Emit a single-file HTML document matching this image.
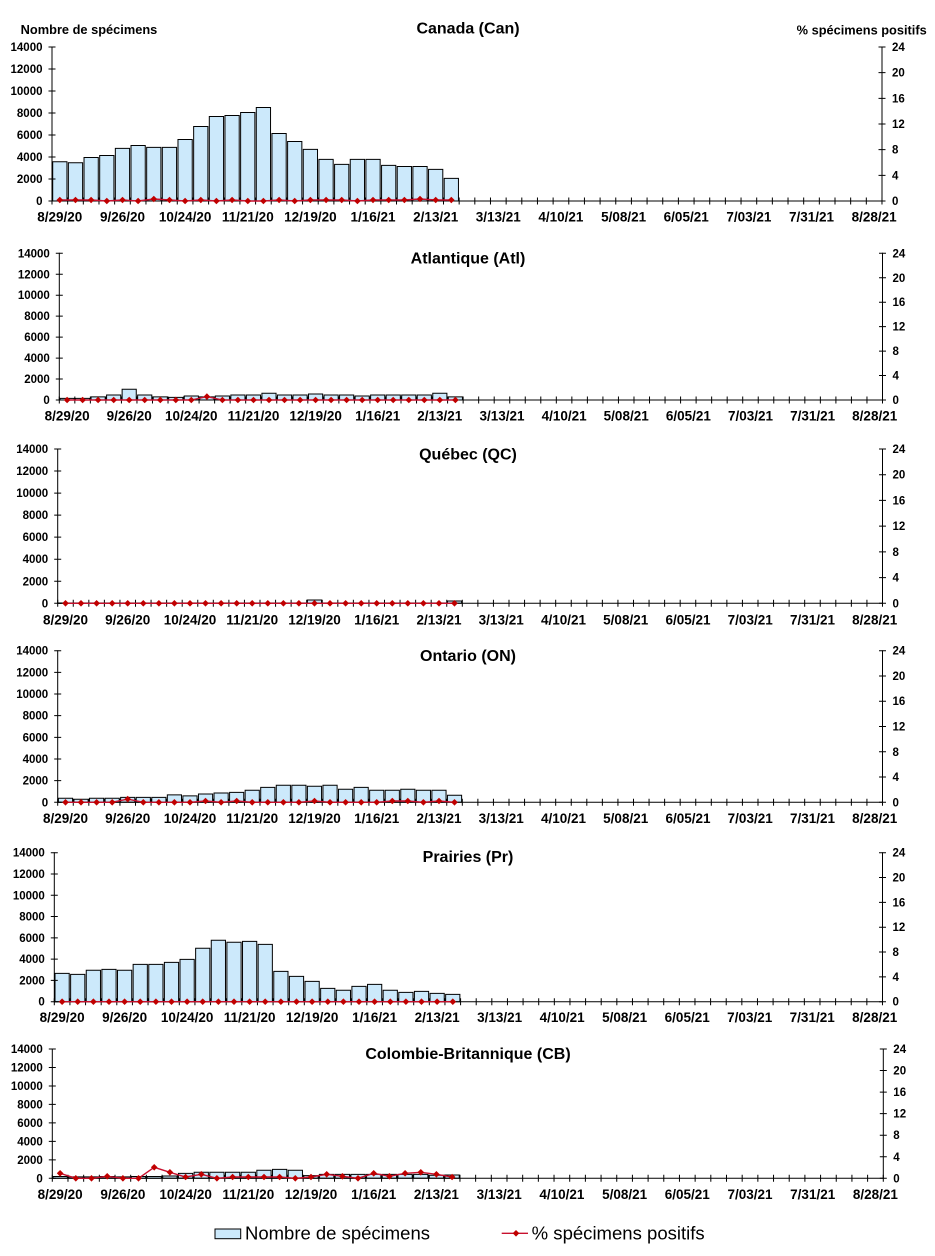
<!DOCTYPE html>
<html><head><meta charset="utf-8"><style>
html,body{margin:0;padding:0;background:#fff}
svg{display:block}
text{font-family:"Liberation Sans",Arial,sans-serif;fill:#000}
.t{font-weight:bold;font-size:16px;text-anchor:middle}
.h{font-weight:bold;font-size:12.5px}
.l{font-weight:bold;font-size:11.5px;text-anchor:end}
.r{font-weight:bold;font-size:11.5px}
.d{font-weight:bold;font-size:13.5px;text-anchor:middle}
.lg{font-size:18px}
.b{fill:#cce9fb;stroke:#000}
.b rect{vector-effect:non-scaling-stroke;stroke-width:1}
.ax{stroke:#000;stroke-width:1;fill:none}
.pl{fill:none;stroke:#c8102e;stroke-width:1.4;marker-start:url(#dm);marker-mid:url(#dm);marker-end:url(#dm)}
</style></head><body>
<svg width="935" height="1256" viewBox="0 0 935 1256" xmlns="http://www.w3.org/2000/svg">
<defs>
<marker id="dm" markerWidth="8" markerHeight="8" refX="4" refY="4" markerUnits="userSpaceOnUse" orient="0"><path d="M4,0.7L7.3,4L4,7.3L0.7,4Z" fill="#c00000"/></marker>
</defs>
<rect width="935" height="1256" fill="#fff"/>

<text class="h" x="20.7" y="34" textLength="136.6" lengthAdjust="spacingAndGlyphs">Nombre de spécimens</text>
<text class="h" x="796.7" y="34.3" textLength="130" lengthAdjust="spacingAndGlyphs">% spécimens positifs</text>

<!-- P1 Canada -->
<text class="t" x="468" y="33.3">Canada (Can)</text>
<g class="b" transform="translate(52,201) scale(15.660,-0.011)">
<rect x="0.045" width=".91" height="3570"/><rect x="1.045" width=".91" height="3480"/><rect x="2.045" width=".91" height="3960"/><rect x="3.045" width=".91" height="4140"/><rect x="4.045" width=".91" height="4780"/><rect x="5.045" width=".91" height="5050"/><rect x="6.045" width=".91" height="4870"/><rect x="7.045" width=".91" height="4870"/><rect x="8.045" width=".91" height="5590"/><rect x="9.045" width=".91" height="6770"/><rect x="10.045" width=".91" height="7680"/><rect x="11.045" width=".91" height="7770"/><rect x="12.045" width=".91" height="8040"/><rect x="13.045" width=".91" height="8500"/><rect x="14.045" width=".91" height="6140"/><rect x="15.045" width=".91" height="5410"/><rect x="16.045" width=".91" height="4690"/><rect x="17.045" width=".91" height="3780"/><rect x="18.045" width=".91" height="3330"/><rect x="19.045" width=".91" height="3780"/><rect x="20.045" width=".91" height="3780"/><rect x="21.045" width=".91" height="3240"/><rect x="22.045" width=".91" height="3140"/><rect x="23.045" width=".91" height="3140"/><rect x="24.045" width=".91" height="2870"/><rect x="25.045" width=".91" height="2060"/>
</g>
<path class="ax" d="M52,46.5V201.5M52,201H882M882,46.5V201.5"/>
<line x1="51.5" y1="201" x2="882.5" y2="201" stroke="#000" stroke-width="7" stroke-dasharray="1 14.66"/>
<line x1="52" y1="46.5" x2="52" y2="201.5" stroke="#000" stroke-width="7" stroke-dasharray="1 21"/>
<line x1="882" y1="46.5" x2="882" y2="201.5" stroke="#000" stroke-width="7" stroke-dasharray="1 24.667"/>
<polyline class="pl" points="59.8,200 75.5,200 91.1,200 106.8,201 122.5,200 138.1,201 153.8,199 169.5,200 185.1,201 200.8,200 216.4,201 232.1,200 247.8,201 263.4,201 279.1,200 294.7,201 310.4,200 326.1,200 341.7,200 357.4,201 373.0,200 388.7,200 404.4,200 420.0,199 435.7,200 451.3,200"/>
<text class="l" x="42.5" y="205">0</text><text class="l" x="42.5" y="183">2000</text><text class="l" x="42.5" y="161">4000</text><text class="l" x="42.5" y="139">6000</text><text class="l" x="42.5" y="117">8000</text><text class="l" x="42.5" y="95">10000</text><text class="l" x="42.5" y="73">12000</text><text class="l" x="42.5" y="51">14000</text>
<text class="r" x="892" y="205">0</text><text class="r" x="892" y="179.3">4</text><text class="r" x="892" y="153.7">8</text><text class="r" x="892" y="128">12</text><text class="r" x="892" y="102.3">16</text><text class="r" x="892" y="76.7">20</text><text class="r" x="892" y="51">24</text>
<text class="d" x="59.8" y="221.5">8/29/20</text><text class="d" x="122.5" y="221.5">9/26/20</text><text class="d" x="185.1" y="221.5">10/24/20</text><text class="d" x="247.8" y="221.5">11/21/20</text><text class="d" x="310.4" y="221.5">12/19/20</text><text class="d" x="373.0" y="221.5">1/16/21</text><text class="d" x="435.7" y="221.5">2/13/21</text><text class="d" x="498.3" y="221.5">3/13/21</text><text class="d" x="560.9" y="221.5">4/10/21</text><text class="d" x="623.6" y="221.5">5/08/21</text><text class="d" x="686.2" y="221.5">6/05/21</text><text class="d" x="748.9" y="221.5">7/03/21</text><text class="d" x="811.5" y="221.5">7/31/21</text><text class="d" x="874.1" y="221.5">8/28/21</text>

<!-- P2 Atlantique -->
<text class="t" x="468" y="263.3">Atlantique (Atl)</text>
<g class="b" transform="translate(59.3,400) scale(15.532,-0.010479)">
<rect x="0.045" width=".91" height="150"/><rect x="1.045" width=".91" height="150"/><rect x="2.045" width=".91" height="300"/><rect x="3.045" width=".91" height="480"/><rect x="4.045" width=".91" height="1020"/><rect x="5.045" width=".91" height="480"/><rect x="6.045" width=".91" height="300"/><rect x="7.045" width=".91" height="250"/><rect x="8.045" width=".91" height="380"/><rect x="9.045" width=".91" height="300"/><rect x="10.045" width=".91" height="380"/><rect x="11.045" width=".91" height="480"/><rect x="12.045" width=".91" height="480"/><rect x="13.045" width=".91" height="640"/><rect x="14.045" width=".91" height="480"/><rect x="15.045" width=".91" height="480"/><rect x="16.045" width=".91" height="570"/><rect x="17.045" width=".91" height="480"/><rect x="18.045" width=".91" height="480"/><rect x="19.045" width=".91" height="380"/><rect x="20.045" width=".91" height="480"/><rect x="21.045" width=".91" height="480"/><rect x="22.045" width=".91" height="480"/><rect x="23.045" width=".91" height="480"/><rect x="24.045" width=".91" height="640"/><rect x="25.045" width=".91" height="300"/>
</g>
<path class="ax" d="M59.3,252.8V400.5M59.3,400H882.5M882.5,252.8V400.5"/>
<line x1="58.8" y1="400" x2="883" y2="400" stroke="#000" stroke-width="7" stroke-dasharray="1 14.532"/>
<line x1="59.3" y1="252.8" x2="59.3" y2="400.5" stroke="#000" stroke-width="7" stroke-dasharray="1 19.957"/>
<line x1="882.5" y1="252.8" x2="882.5" y2="400.5" stroke="#000" stroke-width="7" stroke-dasharray="1 23.45"/>
<polyline class="pl" points="67.1,400 82.6,400 98.1,400 113.7,400 129.2,400 144.7,400 160.3,400 175.8,400 191.3,400 206.9,396.6 222.4,400 237.9,400 253.5,400 269.0,400 284.5,400 300.1,400 315.6,400 331.1,400 346.6,400 362.2,400 377.7,400 393.2,400 408.8,400 424.3,400 439.8,400 455.4,400"/>
<text class="l" x="49.8" y="404">0</text><text class="l" x="49.8" y="383">2000</text><text class="l" x="49.8" y="362.1">4000</text><text class="l" x="49.8" y="341.1">6000</text><text class="l" x="49.8" y="320.2">8000</text><text class="l" x="49.8" y="299.2">10000</text><text class="l" x="49.8" y="278.3">12000</text><text class="l" x="49.8" y="257.3">14000</text>
<text class="r" x="892.5" y="404">0</text><text class="r" x="892.5" y="379.6">4</text><text class="r" x="892.5" y="355.1">8</text><text class="r" x="892.5" y="330.7">12</text><text class="r" x="892.5" y="306.2">16</text><text class="r" x="892.5" y="281.8">20</text><text class="r" x="892.5" y="257.3">24</text>
<text class="d" x="67.1" y="420.5">8/29/20</text><text class="d" x="129.2" y="420.5">9/26/20</text><text class="d" x="191.3" y="420.5">10/24/20</text><text class="d" x="253.5" y="420.5">11/21/20</text><text class="d" x="315.6" y="420.5">12/19/20</text><text class="d" x="377.7" y="420.5">1/16/21</text><text class="d" x="439.8" y="420.5">2/13/21</text><text class="d" x="502.0" y="420.5">3/13/21</text><text class="d" x="564.1" y="420.5">4/10/21</text><text class="d" x="626.2" y="420.5">5/08/21</text><text class="d" x="688.4" y="420.5">6/05/21</text><text class="d" x="750.5" y="420.5">7/03/21</text><text class="d" x="812.6" y="420.5">7/31/21</text><text class="d" x="874.7" y="420.5">8/28/21</text>

<!-- P3 Québec -->
<text class="t" x="468" y="459.3">Québec (QC)</text>
<g class="b" transform="translate(57.7,603.3) scale(15.562,-0.011021)">
<rect x="0.045" width=".91" height="30"/><rect x="1.045" width=".91" height="30"/><rect x="2.045" width=".91" height="30"/><rect x="3.045" width=".91" height="30"/><rect x="4.045" width=".91" height="30"/><rect x="5.045" width=".91" height="30"/><rect x="6.045" width=".91" height="30"/><rect x="7.045" width=".91" height="30"/><rect x="8.045" width=".91" height="30"/><rect x="9.045" width=".91" height="30"/><rect x="10.045" width=".91" height="30"/><rect x="11.045" width=".91" height="30"/><rect x="12.045" width=".91" height="30"/><rect x="13.045" width=".91" height="30"/><rect x="14.045" width=".91" height="30"/><rect x="15.045" width=".91" height="30"/><rect x="16.045" width=".91" height="300"/><rect x="17.045" width=".91" height="30"/><rect x="18.045" width=".91" height="30"/><rect x="19.045" width=".91" height="30"/><rect x="20.045" width=".91" height="30"/><rect x="21.045" width=".91" height="30"/><rect x="22.045" width=".91" height="30"/><rect x="23.045" width=".91" height="30"/><rect x="24.045" width=".91" height="30"/><rect x="25.045" width=".91" height="210"/>
</g>
<path class="ax" d="M57.7,448.5V603.8M57.7,603.3H882.5M882.5,448.5V603.8"/>
<line x1="57.2" y1="603.3" x2="883" y2="603.3" stroke="#000" stroke-width="7" stroke-dasharray="1 14.562"/>
<line x1="57.7" y1="448.5" x2="57.7" y2="603.8" stroke="#000" stroke-width="7" stroke-dasharray="1 21.043"/>
<line x1="882.5" y1="448.5" x2="882.5" y2="603.8" stroke="#000" stroke-width="7" stroke-dasharray="1 24.717"/>
<polyline class="pl" points="65.5,603.3 81.0,603.3 96.6,603.3 112.2,603.3 127.7,603.3 143.3,603.3 158.9,603.3 174.4,603.3 190.0,603.3 205.5,603.3 221.1,603.3 236.7,603.3 252.2,603.3 267.8,603.3 283.4,603.3 298.9,603.3 314.5,603.3 330.0,603.3 345.6,603.3 361.2,603.3 376.7,603.3 392.3,603.3 407.8,603.3 423.4,603.3 439.0,603.3 454.5,603.3"/>
<text class="l" x="48.2" y="607.3">0</text><text class="l" x="48.2" y="585.3">2000</text><text class="l" x="48.2" y="563.2">4000</text><text class="l" x="48.2" y="541.2">6000</text><text class="l" x="48.2" y="519.1">8000</text><text class="l" x="48.2" y="497.1">10000</text><text class="l" x="48.2" y="475">12000</text><text class="l" x="48.2" y="453">14000</text>
<text class="r" x="892.5" y="607.3">0</text><text class="r" x="892.5" y="581.6">4</text><text class="r" x="892.5" y="555.9">8</text><text class="r" x="892.5" y="530.2">12</text><text class="r" x="892.5" y="504.4">16</text><text class="r" x="892.5" y="478.7">20</text><text class="r" x="892.5" y="453">24</text>
<text class="d" x="65.5" y="624.3">8/29/20</text><text class="d" x="127.7" y="624.3">9/26/20</text><text class="d" x="190.0" y="624.3">10/24/20</text><text class="d" x="252.2" y="624.3">11/21/20</text><text class="d" x="314.5" y="624.3">12/19/20</text><text class="d" x="376.7" y="624.3">1/16/21</text><text class="d" x="439.0" y="624.3">2/13/21</text><text class="d" x="501.2" y="624.3">3/13/21</text><text class="d" x="563.5" y="624.3">4/10/21</text><text class="d" x="625.7" y="624.3">5/08/21</text><text class="d" x="688.0" y="624.3">6/05/21</text><text class="d" x="750.2" y="624.3">7/03/21</text><text class="d" x="812.5" y="624.3">7/31/21</text><text class="d" x="874.7" y="624.3">8/28/21</text>

<!-- P4 Ontario -->
<text class="t" x="468" y="661">Ontario (ON)</text>
<g class="b" transform="translate(57.7,802.3) scale(15.562,-0.010829)">
<rect x="0.045" width=".91" height="370"/><rect x="1.045" width=".91" height="280"/><rect x="2.045" width=".91" height="370"/><rect x="3.045" width=".91" height="370"/><rect x="4.045" width=".91" height="460"/><rect x="5.045" width=".91" height="460"/><rect x="6.045" width=".91" height="460"/><rect x="7.045" width=".91" height="680"/><rect x="8.045" width=".91" height="590"/><rect x="9.045" width=".91" height="770"/><rect x="10.045" width=".91" height="860"/><rect x="11.045" width=".91" height="920"/><rect x="12.045" width=".91" height="1110"/><rect x="13.045" width=".91" height="1380"/><rect x="14.045" width=".91" height="1570"/><rect x="15.045" width=".91" height="1570"/><rect x="16.045" width=".91" height="1480"/><rect x="17.045" width=".91" height="1570"/><rect x="18.045" width=".91" height="1200"/><rect x="19.045" width=".91" height="1380"/><rect x="20.045" width=".91" height="1110"/><rect x="21.045" width=".91" height="1110"/><rect x="22.045" width=".91" height="1200"/><rect x="23.045" width=".91" height="1110"/><rect x="24.045" width=".91" height="1110"/><rect x="25.045" width=".91" height="650"/>
</g>
<path class="ax" d="M57.7,650.2V802.8M57.7,802.3H882.5M882.5,650.2V802.8"/>
<line x1="57.2" y1="802.3" x2="883" y2="802.3" stroke="#000" stroke-width="7" stroke-dasharray="1 14.562"/>
<line x1="57.7" y1="650.2" x2="57.7" y2="802.8" stroke="#000" stroke-width="7" stroke-dasharray="1 20.657"/>
<line x1="882.5" y1="650.2" x2="882.5" y2="802.8" stroke="#000" stroke-width="7" stroke-dasharray="1 24.267"/>
<polyline class="pl" points="65.5,802.3 81.0,802.3 96.6,802.3 112.2,802.3 127.7,799.1 143.3,802.3 158.9,802.3 174.4,802.3 190.0,802.3 205.5,801 221.1,802.3 236.7,801 252.2,802.3 267.8,802.3 283.4,802.3 298.9,802.3 314.5,801 330.0,802.3 345.6,802.3 361.2,802.3 376.7,802.3 392.3,801 407.8,801 423.4,802.3 439.0,801 454.5,802.3"/>
<text class="l" x="48.2" y="806.3">0</text><text class="l" x="48.2" y="784.6">2000</text><text class="l" x="48.2" y="763">4000</text><text class="l" x="48.2" y="741.3">6000</text><text class="l" x="48.2" y="719.7">8000</text><text class="l" x="48.2" y="698">10000</text><text class="l" x="48.2" y="676.4">12000</text><text class="l" x="48.2" y="654.7">14000</text>
<text class="r" x="892.5" y="806.3">0</text><text class="r" x="892.5" y="781">4</text><text class="r" x="892.5" y="755.8">8</text><text class="r" x="892.5" y="730.5">12</text><text class="r" x="892.5" y="705.2">16</text><text class="r" x="892.5" y="680">20</text><text class="r" x="892.5" y="654.7">24</text>
<text class="d" x="65.5" y="822.8">8/29/20</text><text class="d" x="127.7" y="822.8">9/26/20</text><text class="d" x="190.0" y="822.8">10/24/20</text><text class="d" x="252.2" y="822.8">11/21/20</text><text class="d" x="314.5" y="822.8">12/19/20</text><text class="d" x="376.7" y="822.8">1/16/21</text><text class="d" x="439.0" y="822.8">2/13/21</text><text class="d" x="501.2" y="822.8">3/13/21</text><text class="d" x="563.5" y="822.8">4/10/21</text><text class="d" x="625.7" y="822.8">5/08/21</text><text class="d" x="688.0" y="822.8">6/05/21</text><text class="d" x="750.2" y="822.8">7/03/21</text><text class="d" x="812.5" y="822.8">7/31/21</text><text class="d" x="874.7" y="822.8">8/28/21</text>

<!-- P5 Prairies -->
<text class="t" x="468" y="862">Prairies (Pr)</text>
<g class="b" transform="translate(54.3,1001.7) scale(15.626,-0.010643)">
<rect x="0.045" width=".91" height="2660"/><rect x="1.045" width=".91" height="2570"/><rect x="2.045" width=".91" height="2950"/><rect x="3.045" width=".91" height="3040"/><rect x="4.045" width=".91" height="2950"/><rect x="5.045" width=".91" height="3510"/><rect x="6.045" width=".91" height="3510"/><rect x="7.045" width=".91" height="3700"/><rect x="8.045" width=".91" height="3980"/><rect x="9.045" width=".91" height="5020"/><rect x="10.045" width=".91" height="5770"/><rect x="11.045" width=".91" height="5580"/><rect x="12.045" width=".91" height="5670"/><rect x="13.045" width=".91" height="5390"/><rect x="14.045" width=".91" height="2850"/><rect x="15.045" width=".91" height="2380"/><rect x="16.045" width=".91" height="1910"/><rect x="17.045" width=".91" height="1250"/><rect x="18.045" width=".91" height="1070"/><rect x="19.045" width=".91" height="1440"/><rect x="20.045" width=".91" height="1630"/><rect x="21.045" width=".91" height="1070"/><rect x="22.045" width=".91" height="880"/><rect x="23.045" width=".91" height="970"/><rect x="24.045" width=".91" height="780"/><rect x="25.045" width=".91" height="690"/>
</g>
<path class="ax" d="M54.3,852.2V1002.2M54.3,1001.7H882.5M882.5,852.2V1002.2"/>
<line x1="53.8" y1="1001.7" x2="883" y2="1001.7" stroke="#000" stroke-width="7" stroke-dasharray="1 14.626"/>
<line x1="54.3" y1="852.2" x2="54.3" y2="1002.2" stroke="#000" stroke-width="7" stroke-dasharray="1 20.286"/>
<line x1="882.5" y1="852.2" x2="882.5" y2="1002.2" stroke="#000" stroke-width="7" stroke-dasharray="1 23.833"/>
<polyline class="pl" points="62.1,1001.7 77.7,1001.7 93.4,1001.7 109.0,1001.7 124.6,1001.7 140.2,1001.7 155.9,1001.7 171.5,1001.7 187.1,1001.7 202.7,1001.7 218.4,1001.7 234.0,1001.7 249.6,1001.7 265.2,1001.7 280.9,1001.7 296.5,1001.7 312.1,1001.7 327.8,1001.7 343.4,1001.7 359.0,1001.7 374.6,1001.7 390.3,1001.7 405.9,1001.7 421.5,1001.7 437.1,1001.7 452.8,1001.7"/>
<text class="l" x="44.8" y="1005.7">0</text><text class="l" x="44.8" y="984.4">2000</text><text class="l" x="44.8" y="963.1">4000</text><text class="l" x="44.8" y="941.8">6000</text><text class="l" x="44.8" y="920.6">8000</text><text class="l" x="44.8" y="899.3">10000</text><text class="l" x="44.8" y="878">12000</text><text class="l" x="44.8" y="856.7">14000</text>
<text class="r" x="892.5" y="1005.7">0</text><text class="r" x="892.5" y="980.9">4</text><text class="r" x="892.5" y="956">8</text><text class="r" x="892.5" y="931.2">12</text><text class="r" x="892.5" y="906.4">16</text><text class="r" x="892.5" y="881.5">20</text><text class="r" x="892.5" y="856.7">24</text>
<text class="d" x="62.1" y="1022.2">8/29/20</text><text class="d" x="124.6" y="1022.2">9/26/20</text><text class="d" x="187.1" y="1022.2">10/24/20</text><text class="d" x="249.6" y="1022.2">11/21/20</text><text class="d" x="312.1" y="1022.2">12/19/20</text><text class="d" x="374.6" y="1022.2">1/16/21</text><text class="d" x="437.1" y="1022.2">2/13/21</text><text class="d" x="499.6" y="1022.2">3/13/21</text><text class="d" x="562.1" y="1022.2">4/10/21</text><text class="d" x="624.6" y="1022.2">5/08/21</text><text class="d" x="687.2" y="1022.2">6/05/21</text><text class="d" x="749.7" y="1022.2">7/03/21</text><text class="d" x="812.2" y="1022.2">7/31/21</text><text class="d" x="874.7" y="1022.2">8/28/21</text>

<!-- P6 Colombie-Britannique -->
<text class="t" x="468" y="1059">Colombie-Britannique (CB)</text>
<g class="b" transform="translate(52.3,1178.3) scale(15.679,-0.0092357)">
<rect x="0.045" width=".91" height="200"/><rect x="1.045" width=".91" height="150"/><rect x="2.045" width=".91" height="150"/><rect x="3.045" width=".91" height="200"/><rect x="4.045" width=".91" height="150"/><rect x="5.045" width=".91" height="200"/><rect x="6.045" width=".91" height="200"/><rect x="7.045" width=".91" height="250"/><rect x="8.045" width=".91" height="540"/><rect x="9.045" width=".91" height="650"/><rect x="10.045" width=".91" height="650"/><rect x="11.045" width=".91" height="650"/><rect x="12.045" width=".91" height="650"/><rect x="13.045" width=".91" height="870"/><rect x="14.045" width=".91" height="970"/><rect x="15.045" width=".91" height="870"/><rect x="16.045" width=".91" height="290"/><rect x="17.045" width=".91" height="430"/><rect x="18.045" width=".91" height="430"/><rect x="19.045" width=".91" height="430"/><rect x="20.045" width=".91" height="430"/><rect x="21.045" width=".91" height="430"/><rect x="22.045" width=".91" height="430"/><rect x="23.045" width=".91" height="430"/><rect x="24.045" width=".91" height="330"/><rect x="25.045" width=".91" height="360"/>
</g>
<path class="ax" d="M52.3,1048.5V1178.8M52.3,1178.3H883.3M883.3,1048.5V1178.8"/>
<line x1="51.8" y1="1178.3" x2="883.8" y2="1178.3" stroke="#000" stroke-width="7" stroke-dasharray="1 14.679"/>
<line x1="52.3" y1="1048.5" x2="52.3" y2="1178.8" stroke="#000" stroke-width="7" stroke-dasharray="1 17.471"/>
<line x1="883.3" y1="1048.5" x2="883.3" y2="1178.8" stroke="#000" stroke-width="7" stroke-dasharray="1 20.55"/>
<polyline class="pl" points="60.1,1173.3 75.8,1178.3 91.5,1178.3 107.2,1176.3 122.9,1178.3 138.5,1178.3 154.2,1167.3 169.9,1172.3 185.6,1177 201.3,1174.3 216.9,1178.3 232.6,1177 248.3,1177 264.0,1177 279.6,1177 295.3,1178.3 311.0,1177 326.7,1174.3 342.4,1176.3 358.0,1178.3 373.7,1173.3 389.4,1176.3 405.1,1173.3 420.8,1172.3 436.4,1174.3 452.1,1177"/>
<text class="l" x="42.8" y="1182.3">0</text><text class="l" x="42.8" y="1163.8">2000</text><text class="l" x="42.8" y="1145.4">4000</text><text class="l" x="42.8" y="1126.9">6000</text><text class="l" x="42.8" y="1108.4">8000</text><text class="l" x="42.8" y="1090">10000</text><text class="l" x="42.8" y="1071.5">12000</text><text class="l" x="42.8" y="1053">14000</text>
<text class="r" x="893.3" y="1182.3">0</text><text class="r" x="893.3" y="1160.8">4</text><text class="r" x="893.3" y="1139.2">8</text><text class="r" x="893.3" y="1117.7">12</text><text class="r" x="893.3" y="1096.1">16</text><text class="r" x="893.3" y="1074.6">20</text><text class="r" x="893.3" y="1053">24</text>
<text class="d" x="60.1" y="1198.8">8/29/20</text><text class="d" x="122.9" y="1198.8">9/26/20</text><text class="d" x="185.6" y="1198.8">10/24/20</text><text class="d" x="248.3" y="1198.8">11/21/20</text><text class="d" x="311.0" y="1198.8">12/19/20</text><text class="d" x="373.7" y="1198.8">1/16/21</text><text class="d" x="436.4" y="1198.8">2/13/21</text><text class="d" x="499.2" y="1198.8">3/13/21</text><text class="d" x="561.9" y="1198.8">4/10/21</text><text class="d" x="624.6" y="1198.8">5/08/21</text><text class="d" x="687.3" y="1198.8">6/05/21</text><text class="d" x="750.0" y="1198.8">7/03/21</text><text class="d" x="812.7" y="1198.8">7/31/21</text><text class="d" x="875.4" y="1198.8">8/28/21</text>

<!-- legend -->
<rect x="215" y="1229" width="25.7" height="9.7" fill="#cce9fb" stroke="#000" stroke-width="1"/>
<text class="lg" x="245" y="1239.5" textLength="185" lengthAdjust="spacingAndGlyphs">Nombre de spécimens</text>
<polyline points="501.7,1233.3 516,1233.3 528,1233.3" fill="none" stroke="#c8102e" stroke-width="1.4" marker-mid="url(#dm)"/>
<text class="lg" x="531.7" y="1239.5" textLength="173" lengthAdjust="spacingAndGlyphs">% spécimens positifs</text>
</svg>
</body></html>
